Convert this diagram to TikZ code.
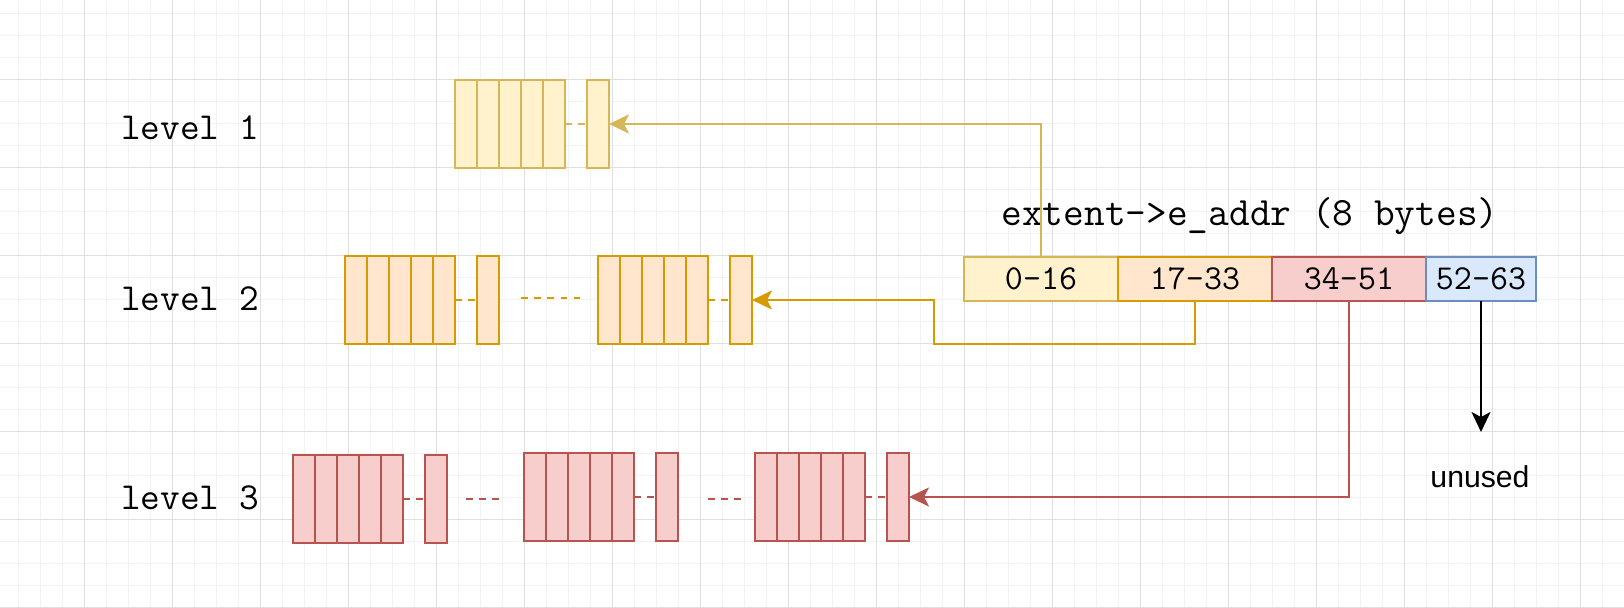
\documentclass[tikz,border=0pt]{standalone}
\usepackage{fontspec}
\setsansfont{Liberation Sans}
\usetikzlibrary{arrows.meta,calc,positioning}

\definecolor{yfill}{HTML}{FFF2CC}
\definecolor{yline}{HTML}{D6B656}
\definecolor{ofill}{HTML}{FFE6CC}
\definecolor{oline}{HTML}{D79B00}
\definecolor{rfill}{HTML}{F8CECC}
\definecolor{rline}{HTML}{B85450}
\definecolor{bfill}{HTML}{DAE8FC}
\definecolor{bline}{HTML}{6C8EBF}
\definecolor{minorgrid}{HTML}{F2F2F2}
\definecolor{majorgrid}{HTML}{DFDFDF}

\begin{document}
\begin{tikzpicture}[x=0.5pt, y=-0.5pt,
  cell/.style={draw, line width=1.3pt, inner sep=0pt, outer sep=0pt, minimum width=11pt, minimum height=44pt},
  cellA/.style={cell, fill=yfill, draw=yline},
  cellB/.style={cell, fill=ofill, draw=oline},
  cellC/.style={cell, fill=rfill, draw=rline},
  field/.style={draw, line width=1.3pt, inner sep=0pt, outer sep=0pt, minimum height=22pt, font=\ttfamily\fontsize{17.5}{19}\selectfont},
  gap/.style={line width=1.3pt, dash pattern=on 3.4pt off 3.2pt},
  link/.style={line width=1.2pt, -{Stealth[length=10pt, width=9.5pt, inset=2.5pt]}},
  lvl/.style={anchor=base, font=\ttfamily\fontsize{19.1}{21}\selectfont}]
\useasboundingbox (0,0) rectangle (1624,608);
\fill[white] (0,0) rectangle (1624,608);
% grid
\foreach \x in {18,40,...,1624} \draw[minorgrid, line width=0.5pt] (\x,0) -- (\x,608);
\foreach \y in {14,36,...,608} \draw[minorgrid, line width=0.5pt] (0,\y) -- (1624,\y);
\foreach \x in {84,172,...,1624} \draw[majorgrid, line width=0.5pt] (\x,0) -- (\x,608);
\foreach \y in {80,168,...,608} \draw[majorgrid, line width=0.5pt] (0,\y) -- (1624,\y);

\node[lvl] (lv1) at (190,140) {level 1};
\node[lvl] (lv2) at (190,311) {level 2};
\node[lvl] (lv3) at (190,510) {level 3};

% level 1
\foreach \i in {0,...,4} \node[cellA] (a\i) at ({466+22*\i},124) {};
\node[cellA] (aend) at (598,124) {};
\draw[gap, yline] (a4.east) -- (aend.west);

% level 2
\foreach \i in {0,...,4} {
  \node[cellB] (b\i) at ({356+22*\i},300) {};
  \node[cellB] (bb\i) at ({609+22*\i},300) {};
}
\node[cellB] (bone) at (488,300) {};
\node[cellB] (bend) at (741,300) {};
\draw[gap, oline] (b4.east) -- (bone.west);
\draw[gap, oline] (bb4.east) -- (bend.west);
\draw[gap, oline] (521,298) -- (580,298);

% level 3
\foreach \i in {0,...,4} {
  \node[cellC] (c\i) at ({304+22*\i},499) {};
  \node[cellC] (cc\i) at ({535+22*\i},497) {};
  \node[cellC] (ccc\i) at ({766+22*\i},497) {};
}
\node[cellC] (cone) at (436,499) {};
\node[cellC] (ctwo) at (667,497) {};
\node[cellC] (cend) at (898,497) {};
\draw[gap, rline] (c4.east) -- (cone.west);
\draw[gap, rline] (cc4.east) -- (ctwo.west);
\draw[gap, rline] (ccc4.east) -- (cend.west);
\draw[gap, rline] (466,499) -- (499,499);
\draw[gap, rline] (708,499) -- (741,499);

% e_addr
\node[anchor=base, font=\ttfamily\fontsize{20.1}{22}\selectfont] (title) at (1250,226) {extent->e\_addr (8 bytes)};
\node[field, fill=yfill, draw=yline, minimum width=77pt] (f0) at (1041,279) {0-16};
\node[field, fill=ofill, draw=oline, minimum width=77pt, right=0pt of f0] (f1) {17-33};
\node[field, fill=rfill, draw=rline, minimum width=77pt, right=0pt of f1] (f2) {34-51};
\node[field, fill=bfill, draw=bline, minimum width=55pt, right=0pt of f2] (f3) {52-63};

\coordinate (bturn) at (934,344);
\coordinate (tip) at ($(f3.south)+(0,131)$);
\draw[link, yline] (f0.north) |- (aend.east);
\draw[link, oline] (f1.south) |- (bturn) |- (bend.east);
\draw[link, rline] (f2.south) |- (cend.east);
\draw[link, black] (f3.south) -- (tip);
\node[anchor=base, font=\sffamily\fontsize{15.1}{17}\selectfont] (unused) at (1480,488) {unused};
\end{tikzpicture}
\end{document}
